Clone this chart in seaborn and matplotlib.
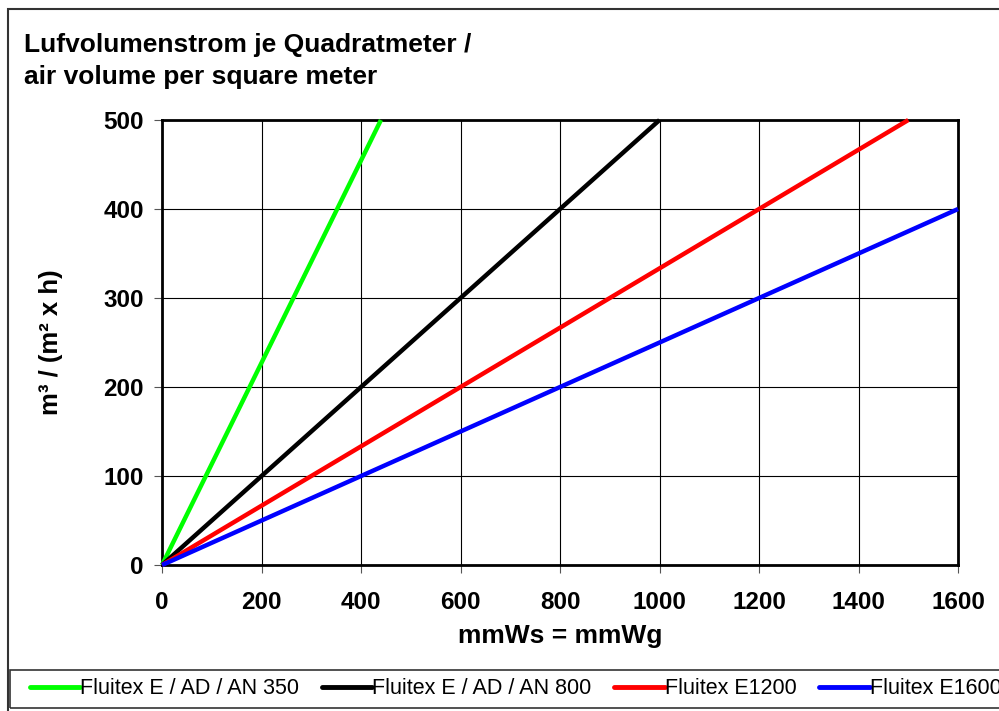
import matplotlib
matplotlib.use("Agg")
from matplotlib import pyplot as plt
from matplotlib.patches import Rectangle
import pandas as pd
import seaborn as sns

# Data: straight lines from the origin, end points
series = ["Fluitex E / AD / AN 350", "Fluitex E / AD / AN 800",
          "Fluitex E1200", "Fluitex E1600"]
pressure_end = [440, 1000, 1500, 1600]   # mmWs
volume_end = [500, 500, 500, 400]        # m3/(m2 x h)
colors = ["#00ff00", "#000000", "#ff0000", "#0000ff"]

x_ticks = [0, 200, 400, 600, 800, 1000, 1200, 1400, 1600]
y_ticks = [0, 100, 200, 300, 400, 500]

rows = []
for name, xe, ye in zip(series, pressure_end, volume_end):
    rows.append({"series": name, "mmWs": 0, "vol": 0})
    rows.append({"series": name, "mmWs": xe, "vol": ye})
df = pd.DataFrame(rows)

sns.set_theme(style="white")
plt.rcParams['font.family'] = ['Liberation Sans', 'DejaVu Sans']

fig = plt.figure(figsize=(9.99, 7.11), dpi=100)
ax = fig.add_axes([0.1622, 0.2053, 0.7968, 0.6259])

sns.lineplot(data=df, x="mmWs", y="vol", hue="series", hue_order=series,
             palette=colors, linewidth=3.2, ax=ax, legend=False,
             solid_capstyle="butt", clip_on=False, zorder=3)

ax.set_xlim(0, 1600)
ax.set_ylim(0, 500)
ax.set_xticks(x_ticks)
ax.set_yticks(y_ticks)
ax.grid(True, color="black", linewidth=0.8)
ax.set_axisbelow(True)
for s in ax.spines.values():
    s.set_color("black")
    s.set_linewidth(2)
ax.tick_params(axis="both", direction="out", length=6, width=0.8,
               color="#555555", labelsize=17.5, labelcolor="black",
               bottom=True, left=True)
ax.tick_params(axis="y", pad=7)
ax.tick_params(axis="x", pad=13)
for lab in ax.get_xticklabels() + ax.get_yticklabels():
    lab.set_fontweight("bold")

ax.set_xlabel("mmWs = mmWg", fontsize=19, fontweight="bold", labelpad=7,
              color="black")
ax.set_ylabel("m³ / (m² x h)", fontsize=18.5, fontweight="bold", labelpad=29,
              color="black")

fig.text(0.024, 0.953, "Lufvolumenstrom je Quadratmeter /\nair volume per square meter",
         fontsize=19, fontweight="bold", va="top", ha="left", linespacing=1.38,
         color="black")

# outer chart border and legend box
fig.patches.append(Rectangle((8 / 999, -0.1), 1.2, 1.1 - 9 / 711, transform=fig.transFigure,
                             fill=False, edgecolor="#333333", linewidth=1.5))
fig.patches.append(Rectangle((10 / 999, 3 / 711), 1.2, 38 / 711, transform=fig.transFigure,
                             fill=False, edgecolor="#333333", linewidth=1.2))

handles = [plt.Line2D([], [], color=c, linewidth=3.5) for c in colors]
leg = fig.legend(handles, series, loc="center left", bbox_to_anchor=(0.021, 22 / 711),
                 ncol=4, frameon=False, fontsize=15.5, handlelength=2.35,
                 handletextpad=0.0, columnspacing=1.05, borderaxespad=0)
for t in leg.get_texts():
    t.set_color("black")

fig.savefig("out.png", dpi=100)
